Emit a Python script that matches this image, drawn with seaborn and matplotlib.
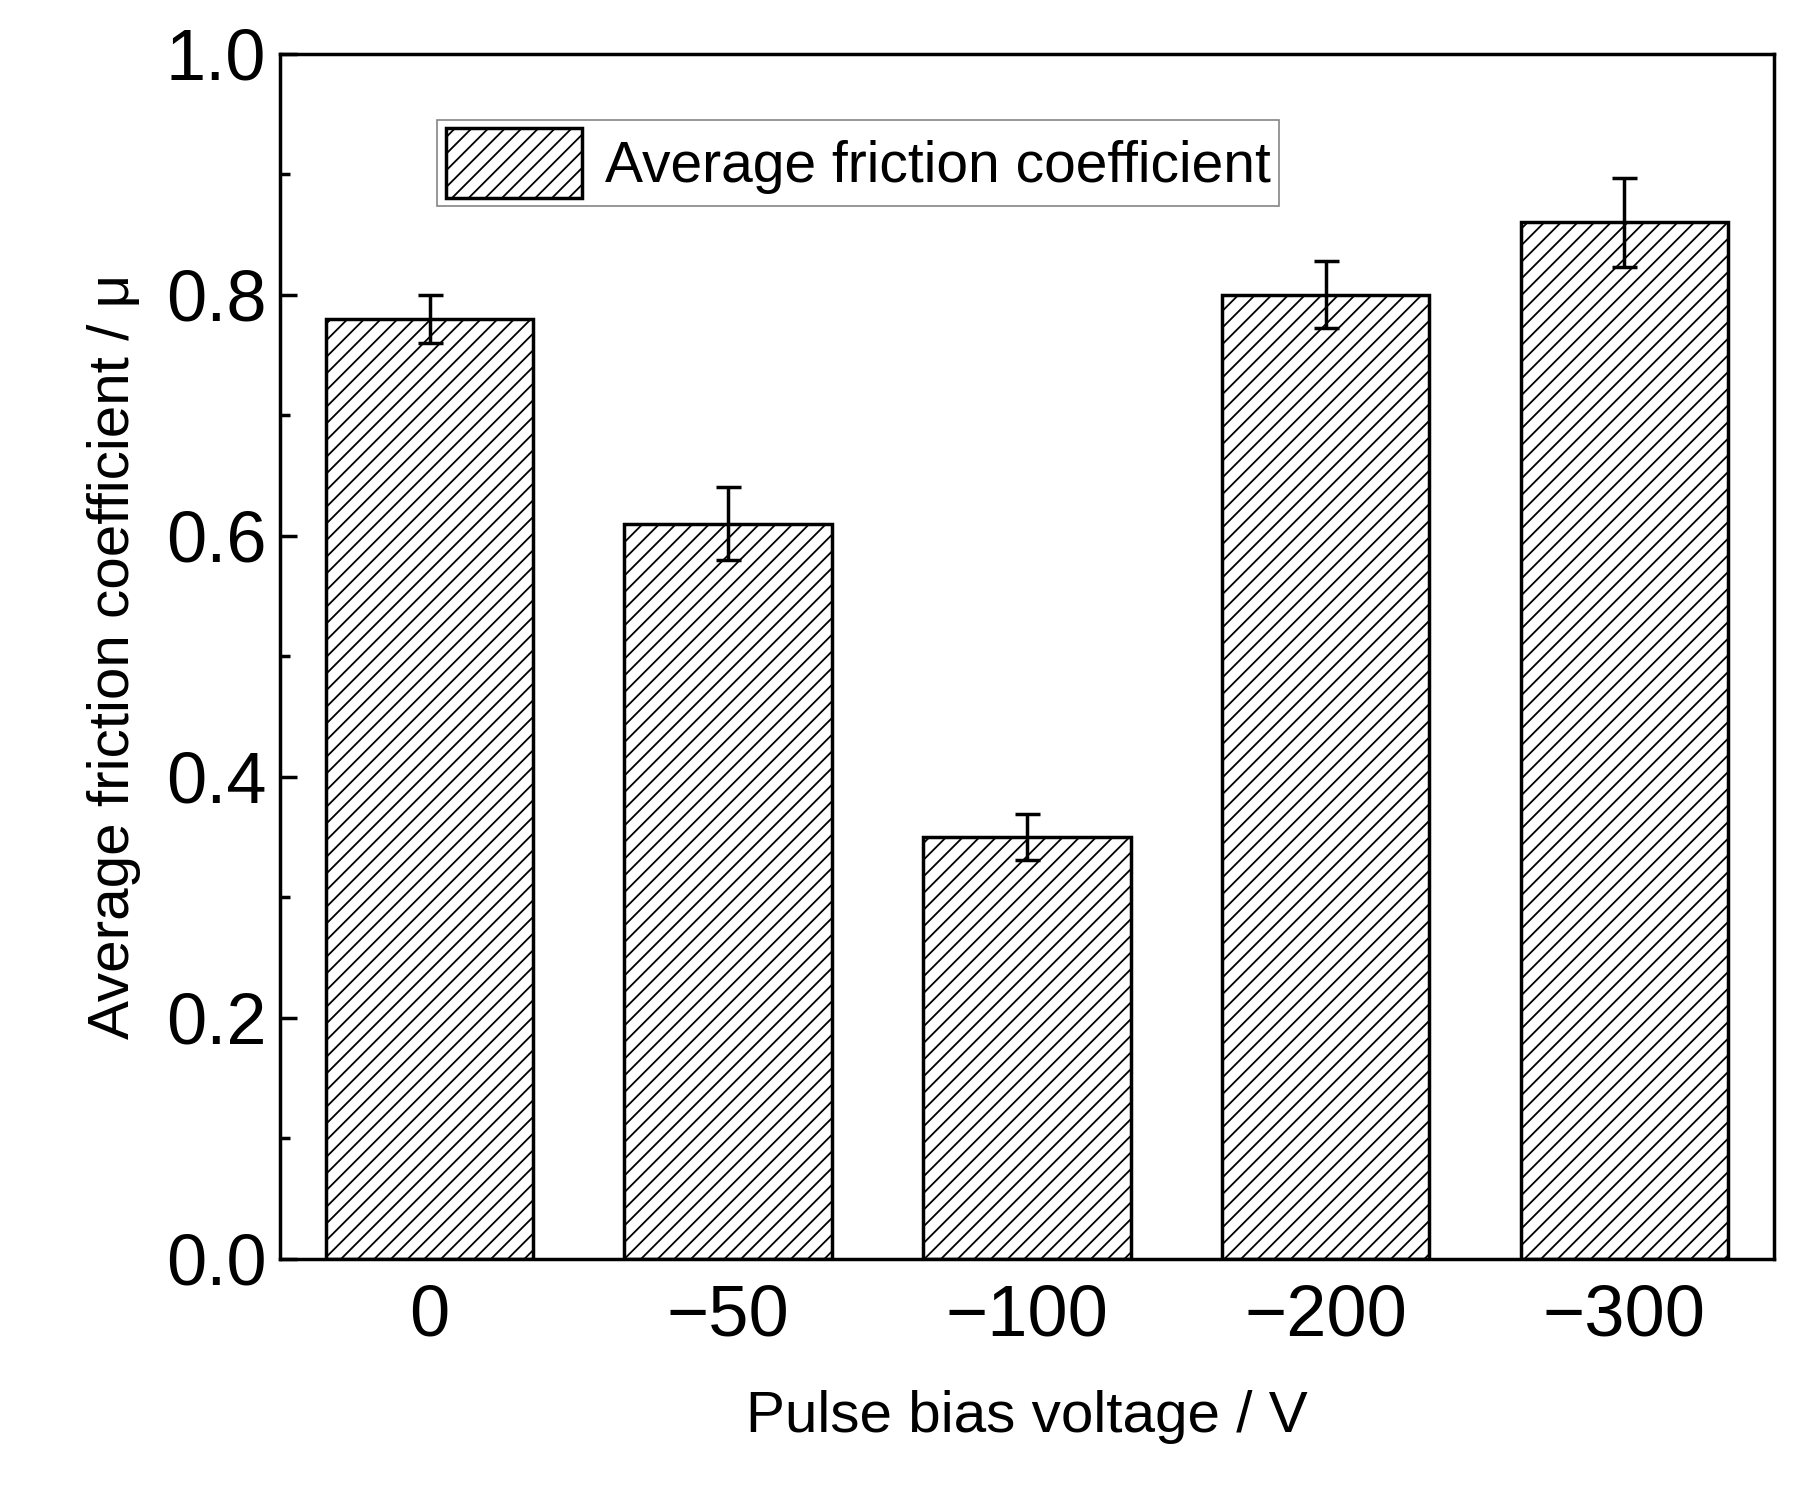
import matplotlib
matplotlib.use("Agg")
import matplotlib.pyplot as plt
import numpy as np
import pandas as pd
import seaborn as sns

voltages = ["0", "\u221250", "\u2212100", "\u2212200", "\u2212300"]
friction = [0.78, 0.61, 0.35, 0.80, 0.86]
errors = [0.02, 0.03, 0.019, 0.028, 0.037]

sns.set_style("ticks")
plt.rcParams["font.family"] = ["Arial", "Liberation Sans", "DejaVu Sans"]
plt.rcParams["hatch.linewidth"] = 1.3
plt.rcParams["text.color"] = "black"
plt.rcParams["axes.labelcolor"] = "black"
plt.rcParams["xtick.color"] = "black"
plt.rcParams["ytick.color"] = "black"
plt.rcParams["axes.edgecolor"] = "black"

df = pd.DataFrame({"voltage": voltages, "mu": friction})

fig, ax = plt.subplots(figsize=(18.08, 14.88), dpi=100)
fig.subplots_adjust(left=0.155, right=0.981, top=0.964, bottom=0.154)

sns.barplot(data=df, x="voltage", y="mu", ax=ax, color="white",
            edgecolor="black", linewidth=2.5, width=0.695,
            hatch="//", label="Average friction coefficient")
ax.errorbar(np.arange(len(voltages)), friction, yerr=errors, fmt="none",
            ecolor="black", elinewidth=2.5, capsize=9, capthick=2.5)

ax.set_ylim(0, 1.0)
ax.set_xlim(-0.5, 4.5)
ax.set_yticks(np.arange(0, 1.01, 0.2))
ax.set_yticklabels([f"{v:.1f}" for v in np.arange(0, 1.01, 0.2)])
ax.set_yticks(np.arange(0.1, 1.0, 0.2), minor=True)
ax.tick_params(axis="y", which="major", direction="in", length=12, width=2.5, labelsize=52, pad=10)
ax.tick_params(axis="y", which="minor", direction="in", length=7, width=2.5)
ax.tick_params(axis="x", direction="in", length=0, labelsize=52, pad=18)
for s in ax.spines.values():
    s.set_linewidth(2.5)

ax.set_xlabel("Pulse bias voltage / V", fontsize=42, labelpad=28)
ax.set_ylabel("Average friction coefficient / \u03bc", fontsize=42, labelpad=18)

leg = ax.legend(loc="upper left", bbox_to_anchor=(0.105, 0.945), fontsize=41,
                frameon=True, fancybox=False, edgecolor="0.4",
                handlelength=2.4, handleheight=1.5, handletextpad=0.4,
                borderpad=0.15, borderaxespad=0)
leg.get_frame().set_linewidth(1.2)

fig.savefig("out.png", dpi=100)
